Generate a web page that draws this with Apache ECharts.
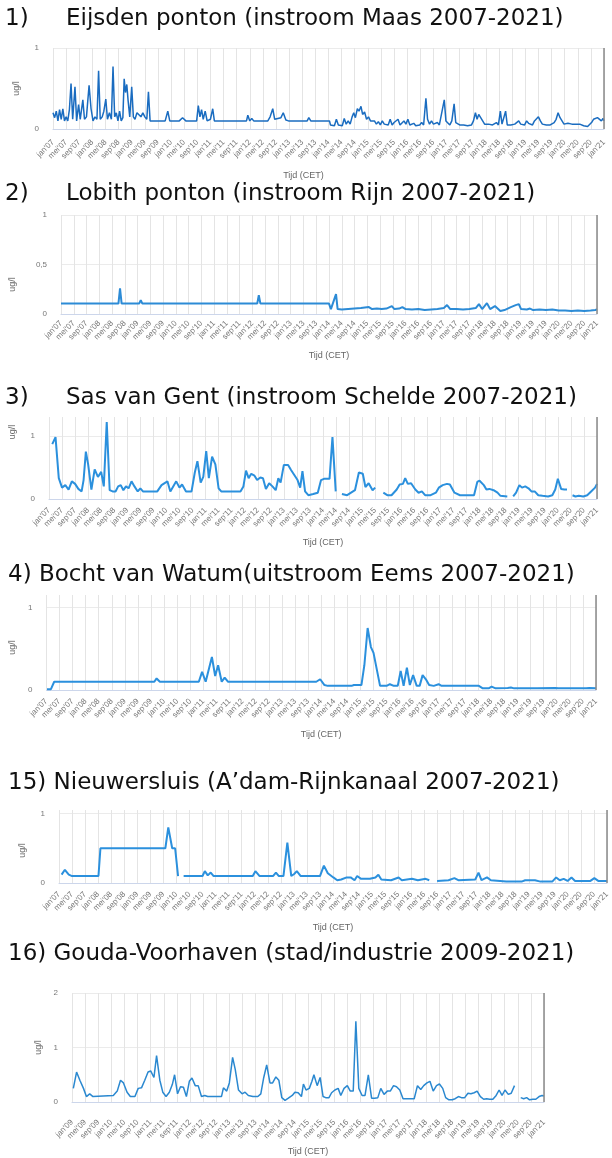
<!DOCTYPE html>
<html><head><meta charset="utf-8">
<script src="https://cdn.jsdelivr.net/npm/echarts@6/dist/echarts.min.js"></script>
<style>html,body{margin:0;padding:0;background:#fff}#c{width:612px;height:1158px}</style>
</head><body><div id="c"></div>
<script>
// ---- tick label names (month abbreviations every 4 months) ----
const monthNames = ['jan', 'mei', 'sep'];
// ---- panel titles ----
const titleNums = ['1)', '2)', '3)', '', '', ''];
const titleTexts = [
  'Eijsden ponton (instroom Maas 2007-2021)',
  'Lobith ponton (instroom Rijn 2007-2021)',
  'Sas van Gent (instroom Schelde 2007-2021)',
  '4) Bocht van Watum(uitstroom Eems 2007-2021)',
  '15) Nieuwersluis (A\u2019dam-Rijnkanaal 2007-2021)',
  '16) Gouda-Voorhaven (stad/industrie 2009-2021)'
];
const yName = 'ug/l';
const xName = 'Tijd (CET)';

// ---- series: [months since jan'07, ug/l] ----
const eijsden = [[0,0.2],[0.5,0.14],[1,0.22],[1.5,0.1],[2,0.24],[2.5,0.12],[3,0.25],[3.5,0.1],[4,0.15],[4.5,0.1],[5,0.24],[5.5,0.56],[6,0.12],[6.7,0.52],[7.2,0.1],[7.8,0.3],[8.3,0.12],[9.1,0.36],[9.6,0.12],[10.2,0.15],[11,0.54],[11.6,0.25],[12.2,0.1],[12.8,0.15],[13.4,0.12],[13.9,0.72],[14.4,0.12],[15,0.15],[15.5,0.22],[16.1,0.37],[16.6,0.12],[17.2,0.2],[17.8,0.12],[18.3,0.77],[18.8,0.15],[19.3,0.2],[19.8,0.1],[20.3,0.22],[20.8,0.1],[21.3,0.14],[21.7,0.62],[22.1,0.45],[22.5,0.55],[22.9,0.35],[23.4,0.15],[24,0.52],[24.5,0.15],[25,0.12],[25.6,0.2],[26.2,0.22],[26.8,0.15],[27.4,0.2],[28,0.15],[28.6,0.12],[29.1,0.46],[29.6,0.1],[34.2,0.1],[35,0.22],[35.6,0.1],[38.5,0.1],[39.5,0.14],[40.5,0.1],[43.8,0.1],[44.3,0.29],[44.8,0.15],[45.3,0.24],[45.8,0.12],[46.4,0.22],[47,0.1],[48,0.12],[48.7,0.25],[49.2,0.1],[59,0.1],[59.4,0.17],[60,0.1],[60.6,0.13],[61.2,0.1],[65.5,0.1],[66.2,0.15],[67,0.25],[67.6,0.12],[69.5,0.14],[70.2,0.2],[71,0.11],[71.8,0.1],[77.5,0.1],[78,0.14],[78.6,0.1],[81,0.1],[81.5,0.12],[82,0.1],[84.3,0.1],[84.6,0.05],[85.2,0.06],[85.8,0.04],[86.4,0.12],[87,0.05],[87.6,0.06],[88.2,0.04],[88.8,0.13],[89.4,0.06],[90,0.1],[90.6,0.06],[91.2,0.15],[91.7,0.2],[92.2,0.14],[92.8,0.25],[93.3,0.22],[93.9,0.28],[94.4,0.18],[95,0.21],[95.6,0.12],[96.2,0.15],[96.8,0.1],[97.4,0.08],[98,0.1],[98.6,0.06],[99.2,0.09],[99.8,0.05],[100.4,0.1],[101,0.06],[101.6,0.08],[102.2,0.05],[102.8,0.12],[103.4,0.05],[104,0.08],[104.6,0.06],[105.2,0.12],[105.8,0.05],[106.4,0.06],[107,0.1],[107.6,0.06],[108.2,0.12],[108.8,0.05],[109.4,0.05],[110,0.07],[110.6,0.04],[111.2,0.06],[111.8,0.05],[112.4,0.08],[113,0.05],[113.7,0.38],[114.2,0.12],[114.8,0.06],[115.4,0.1],[116,0.06],[116.6,0.05],[117.2,0.08],[117.8,0.05],[118.4,0.06],[119.3,0.36],[119.8,0.1],[120.4,0.08],[121,0.05],[121.6,0.1],[122.3,0.31],[122.8,0.08],[123.4,0.07],[124,0.05],[124.6,0.07],[125.2,0.05],[125.8,0.06],[126.4,0.04],[127,0.06],[127.6,0.05],[128.2,0.1],[128.8,0.2],[129.3,0.12],[129.8,0.18],[130.4,0.14],[131,0.1],[131.6,0.06],[132.2,0.05],[132.8,0.06],[133.4,0.04],[134,0.05],[134.6,0.04],[135.2,0.08],[135.8,0.05],[136.4,0.22],[136.9,0.06],[137.5,0.05],[138,0.22],[138.5,0.05],[139,0.04],[139.6,0.05],[140.2,0.04],[140.8,0.06],[141.4,0.05],[142,0.1],[142.6,0.06],[143.2,0.08],[143.8,0.05],[144.4,0.1],[145,0.07],[145.6,0.08],[146.2,0.05],[146.8,0.1],[147.4,0.12],[148,0.15],[148.6,0.1],[149.2,0.06],[149.8,0.04],[150.4,0.05],[151,0.03],[151.6,0.05],[152.2,0.04],[152.8,0.08],[153.4,0.12],[154,0.2],[154.6,0.14],[155.2,0.1],[155.8,0.06],[156.4,0.05],[157,0.07],[157.6,0.05],[158.2,0.06],[158.8,0.07],[159.4,0.06],[160,0.05],[160.6,0.06],[161.2,0.05],[161.8,0.04],[162.4,0.04],[163,0.03],[163.6,0.04],[164.2,0.08],[164.8,0.12],[165.4,0.13],[166,0.14],[166.6,0.12],[167.2,0.1],[167.7,0.13],[168,0.1]];

const lobith = [[0,0.105],[1.5,0.105],[2,0.115],[2.5,0.105],[18,0.105],[18.5,0.26],[19,0.105],[24.5,0.105],[25,0.14],[25.5,0.105],[61.5,0.105],[62,0.19],[62.5,0.105],[84,0.105],[84.6,0.05],[85.2,0.06],[86.2,0.2],[86.7,0.05],[88,0.045],[90,0.05],[92,0.055],[94,0.06],[96.5,0.07],[97.5,0.05],[99,0.055],[100.5,0.05],[102,0.055],[103.7,0.08],[104.5,0.05],[106,0.055],[107,0.07],[108,0.05],[110,0.045],[112,0.05],[114,0.04],[116,0.045],[118,0.05],[120,0.06],[121,0.09],[122,0.05],[124,0.05],[126,0.045],[128,0.05],[130,0.06],[131,0.1],[132,0.05],[133.5,0.11],[134.5,0.05],[136,0.08],[137.7,0.03],[139,0.04],[141,0.07],[142.5,0.09],[143.5,0.1],[144.2,0.05],[146,0.045],[147,0.055],[148,0.04],[150,0.045],[152,0.04],[154,0.045],[156,0.035],[158,0.035],[160,0.03],[162,0.035],[164,0.03],[166,0.035],[167.5,0.04],[168,0.05]];

const sasVanGent = [[1,0.87],[2,0.98],[3,0.33],[4,0.18],[5,0.22],[6,0.15],[7,0.28],[8,0.24],[9,0.16],[10,0.12],[10.6,0.3],[11.3,0.75],[12,0.55],[13,0.15],[14,0.47],[15,0.35],[16,0.43],[16.8,0.2],[17.7,1.22],[18.6,0.14],[19.5,0.12],[20.4,0.12],[21.2,0.2],[22,0.22],[22.8,0.14],[23.6,0.2],[24.4,0.17],[25.3,0.28],[26.2,0.2],[27.2,0.12],[28,0.17],[28.8,0.12],[33.2,0.12],[34.5,0.22],[36.3,0.28],[37.2,0.12],[39,0.28],[40,0.18],[40.8,0.23],[42,0.12],[43.7,0.12],[44.7,0.42],[45.5,0.6],[46.5,0.26],[47.3,0.35],[48.2,0.76],[49,0.33],[50,0.67],[51,0.55],[52,0.17],[52.8,0.12],[58.7,0.12],[59.6,0.2],[60.4,0.45],[61.2,0.33],[62,0.4],[63,0.37],[63.8,0.3],[64.8,0.34],[65.6,0.33],[66.5,0.16],[67.5,0.25],[68.5,0.2],[69.5,0.14],[70.3,0.33],[71,0.26],[72,0.54],[73.3,0.54],[74.2,0.46],[75.2,0.38],[76.2,0.3],[77,0.18],[77.7,0.44],[78.5,0.12],[79.5,0.06],[81,0.08],[82.4,0.1],[83.4,0.3],[84.3,0.32],[85.3,0.32],[86,0.32],[86.9,0.98],[87.9,0.12],[88.8,null],[89.8,0.08],[91.4,0.06],[92.6,0.1],[93.8,0.14],[95,0.42],[96.2,0.4],[97,0.19],[98,0.25],[99.2,0.14],[100,0.18],[101.2,null],[102.5,0.1],[103.7,0.06],[105,0.06],[106.6,0.15],[107.5,0.23],[108.5,0.24],[109.2,0.33],[110,0.24],[111,0.25],[112.3,0.15],[113.3,0.1],[114.3,0.12],[115.3,0.06],[117,0.06],[118.6,0.1],[119.5,0.18],[120.7,0.22],[122,0.24],[122.9,0.23],[124.3,0.1],[126,0.06],[130.3,0.06],[131.3,0.27],[132,0.29],[133.3,0.22],[134.1,0.15],[135,0.16],[136.3,0.14],[137.5,0.1],[138.4,0.05],[140.5,0.04],[141.4,null],[142.3,0.04],[143.2,0.1],[144.2,0.22],[145,0.18],[146,0.2],[147,0.17],[147.9,0.12],[148.9,0.12],[150,0.06],[151.3,0.05],[153,0.04],[154.3,0.06],[155.2,0.15],[156,0.32],[157,0.16],[158,0.15],[158.8,0.15],[159.6,null],[160.5,0.06],[161.4,0.04],[162.4,0.05],[163.8,0.04],[165,0.06],[166.2,0.12],[167.4,0.18],[168,0.24]];

const watum = [[0.2,0.01],[1.4,0.01],[2.4,0.1],[33,0.1],[33.7,0.14],[34.7,0.1],[38.3,0.1],[38.9,0.11],[39.5,0.1],[46.6,0.1],[47.6,0.22],[48.7,0.1],[50.6,0.4],[51.6,0.17],[52.5,0.3],[53.6,0.1],[54.5,0.15],[55.5,0.1],[82.5,0.1],[83.7,0.13],[85,0.06],[86,0.05],[93.3,0.05],[94,0.06],[96.3,0.06],[97.2,0.3],[98.2,0.75],[99.2,0.52],[100,0.45],[102,0.05],[104,0.05],[105,0.07],[106.2,0.05],[107.4,0.05],[108.3,0.23],[109.2,0.05],[110.2,0.27],[111.1,0.06],[112.1,0.18],[113.2,0.05],[114.1,0.05],[115,0.18],[116,0.13],[117,0.06],[118.4,0.05],[119.9,0.07],[120.8,0.05],[132.2,0.05],[133.4,0.02],[135.2,0.02],[136.1,0.04],[137.3,0.02],[141,0.025],[142,0.03],[143,0.02],[150,0.02],[155.5,0.025],[156.5,0.02],[165,0.02],[166,0.025],[168,0.02]];

const nieuwersluis = [[0.8,0.12],[1.8,0.19],[3,0.12],[4,0.1],[12.1,0.1],[12.7,0.5],[32.6,0.5],[33.5,0.8],[34.7,0.5],[35.6,0.5],[36.5,0.1],[37.3,null],[38.2,0.1],[44,0.1],[44.7,0.17],[45.6,0.11],[46.5,0.15],[47.4,0.1],[59.4,0.1],[60.2,0.17],[61.5,0.1],[65.6,0.1],[66.5,0.15],[67.4,0.1],[68.8,0.1],[70,0.58],[71.2,0.1],[72.1,0.13],[72.9,0.17],[74.1,0.1],[80,0.1],[81.2,0.25],[82.4,0.14],[84.1,0.08],[85.3,0.04],[86.5,0.05],[88.2,0.08],[89.4,0.08],[90.6,0.04],[91.4,0.1],[92.6,0.06],[95.3,0.06],[97,0.08],[97.9,0.12],[98.8,0.05],[101.8,0.04],[104.1,0.08],[105.1,0.04],[108.2,0.06],[110,0.04],[112.4,0.06],[113.5,0.04],[114.7,null],[115.9,0.03],[119.4,0.04],[121.2,0.07],[122.4,0.04],[127.6,0.05],[128.6,0.15],[129.5,0.04],[131.2,0.08],[132.4,0.04],[137.1,0.02],[141.8,0.02],[142.9,0.04],[145.9,0.04],[146.5,0.06],[147.6,0.02],[151.2,0.02],[152.4,0.08],[153.5,0.04],[154.7,0.06],[155.9,0.03],[157.1,0.08],[158.2,0.03],[162.9,0.03],[164.1,0.07],[165.3,0.03],[168,0.03]];

const gouda = [[24.4,0.25],[25.4,0.55],[26.4,0.4],[27.5,0.25],[28.4,0.1],[29.4,0.15],[30.4,0.1],[36.6,0.12],[37.8,0.2],[38.8,0.4],[39.7,0.35],[40.8,0.18],[41.8,0.1],[43.2,0.1],[44.2,0.25],[45.2,0.26],[46.2,0.4],[47.2,0.55],[48,0.57],[49,0.45],[49.8,0.85],[50.8,0.4],[51.7,0.18],[52.7,0.1],[53.7,0.18],[54.6,0.32],[55.3,0.5],[56.2,0.15],[57.1,0.28],[58,0.27],[58.9,0.1],[59.8,0.38],[60.6,0.44],[61.6,0.3],[62.5,0.3],[63.5,0.1],[64.5,0.12],[65.4,0.1],[69.6,0.1],[70.2,0.26],[71.2,0.2],[72,0.35],[73,0.82],[73.8,0.6],[74.8,0.22],[75.9,0.15],[76.8,0.18],[77.8,0.12],[79.2,0.1],[80.7,0.1],[81.6,0.15],[82.5,0.45],[83.4,0.68],[84.4,0.35],[85.2,0.35],[86.2,0.46],[87.1,0.4],[88,0.08],[89,0.03],[90,0.07],[91.2,0.12],[92,0.18],[93,0.17],[94,0.1],[94.6,0.33],[95.4,0.22],[96.4,0.25],[97.2,0.38],[97.8,0.5],[98.8,0.3],[99.7,0.45],[100.6,0.1],[101.4,0.08],[102.4,0.08],[103.2,0.17],[104.2,0.22],[105.2,0.25],[106,0.12],[107,0.25],[108,0.3],[108.9,0.2],[109.8,0.2],[110.6,1.48],[111.5,0.25],[112.5,0.12],[113.4,0.12],[114.4,0.5],[115.4,0.07],[116.3,0.07],[117.3,0.08],[118.2,0.25],[119.2,0.14],[120.2,0.2],[121.1,0.2],[122.1,0.3],[123,0.28],[124,0.22],[125,0.06],[126.6,0.06],[128.4,0.06],[129.4,0.3],[130.4,0.23],[131.3,0.3],[132.3,0.35],[133.2,0.38],[134.2,0.2],[135.2,0.3],[136.1,0.33],[137.1,0.25],[138,0.08],[139,0.04],[140,0.04],[140.9,0.06],[141.9,0.1],[142.8,0.08],[143.8,0.08],[144.8,0.16],[145.7,0.15],[146.7,0.17],[147.6,0.2],[148.6,0.1],[149.6,0.05],[150.5,0.06],[151.4,0.05],[152.4,0.05],[153.4,0.12],[154.3,0.22],[155.2,0.12],[156.1,0.22],[157.1,0.14],[158,0.16],[159,0.3],[160,null],[160.9,0.08],[161.8,0.06],[162.7,0.08],[163.6,0.04],[164.6,0.05],[165.5,0.05],[166.5,0.1],[167.4,0.12],[168,0.11]];

const seriesData = [eijsden, lobith, sasVanGent, watum, nieuwersluis, gouda];
const xStart = [0, 0, 0, 0, 0, 24];
const xEnd = 168;

// ---- layout (pixels) ----
const layout = [
  {top: 48,  h: 81,  left: 53, w: 551, max: 1,    iv: 1,   off: 8,  tTop: 8,   yGap: 32, yPad: [0,0,0,0],   xGap: 34, xPad: [0,50,0,0], color: '#1a6cc0', lw: 1.5},
  {top: 215, h: 99,  left: 47, w: 550, max: 1,    iv: 0.5, off: 4,  tTop: 183, yGap: 44, yPad: [0,40,0,0],  xGap: 33, xPad: [0,0,0,0],  color: '#2c8bd6', lw: 2},
  {top: 417, h: 82,  left: 48, w: 549, max: 1.3,  iv: 1,   off: 6,  tTop: 387, yGap: 32, yPad: [0,0,0,52],  xGap: 33, xPad: [0,0,0,0],  color: '#2b90dd', lw: 2},
  {top: 595, h: 95,  left: 45, w: 551, max: 1.15, iv: 1,   off: 6,  tTop: 564, yGap: 28, yPad: [0,10,0,0],  xGap: 34, xPad: [0,0,0,0],  color: '#2b90dd', lw: 2},
  {top: 810, h: 73,  left: 59, w: 553, max: 1.05, iv: 1,   off: 6,  tTop: 772, yGap: 32, yPad: [0,8,0,0],   xGap: 34, xPad: [0,0,0,0],  color: '#2b90dd', lw: 2},
  {top: 993, h: 109, left: 72, w: 472, max: 2,    iv: 1,   off: 15, tTop: 943, yGap: 28, yPad: [0,0,0,0],   xGap: 30, xPad: [0,0,0,0],  color: '#2a88d0', lw: 1.5}
];

function monthLabel(m) {
  const yr = 7 + Math.floor(m / 12);
  return monthNames[Math.round((m % 12) / 4)] + "'" + String(yr).padStart(2, '0');
}

const titleFont = {fontFamily: 'DejaVu Sans', fontSize: 23, fontWeight: 'normal', color: '#111'};
const titles = [];
const grids = [], xAxes = [], yAxes = [], series = [];
layout.forEach((L, i) => {
  if (titleNums[i]) {
    titles.push({text: titleNums[i], left: 5, top: L.tTop, padding: 0, textStyle: titleFont});
    titles.push({text: titleTexts[i], left: 66, top: L.tTop, padding: 0, textStyle: titleFont});
  } else {
    titles.push({text: titleTexts[i], left: 8, top: L.tTop, padding: 0, textStyle: titleFont});
  }
  grids.push({left: L.left, top: L.top, width: L.w, height: L.h, containLabel: false});
  xAxes.push({
    type: 'value', gridIndex: i, min: xStart[i], max: xEnd, interval: 4, offset: L.off,
    name: xName, nameLocation: 'middle', nameGap: L.xGap,
    nameTextStyle: {color: '#666', fontSize: 9, fontFamily: 'Liberation Sans', padding: L.xPad},
    axisLine: {show: true, lineStyle: {color: '#ccd6eb', width: 1}},
    axisTick: {show: false},
    axisLabel: {rotate: 45, fontSize: 8, color: '#777', fontFamily: 'Liberation Sans', margin: 4,
      formatter: v => monthLabel(v)},
    splitLine: {show: true, lineStyle: {color: '#e4e4e4', width: 1}}
  });
  yAxes.push({
    type: 'value', gridIndex: i, min: 0, max: L.max, interval: L.iv,
    name: yName, nameLocation: 'middle', nameGap: L.yGap, nameRotate: 90,
    nameTextStyle: {color: '#666', fontSize: 9, fontFamily: 'Liberation Sans', padding: L.yPad},
    axisLine: {show: false}, axisTick: {show: false},
    axisLabel: {fontSize: 8, color: '#777', fontFamily: 'Liberation Sans', margin: 14,
      formatter: v => (Math.abs(v / L.iv - Math.round(v / L.iv)) < 1e-6 ? String(v).replace('.', ',') : '')},
    splitLine: {show: true, showMaxLine: (L.max % L.iv === 0), lineStyle: {color: '#ebebeb', width: 1}}
  });
  series.push({
    type: 'line', xAxisIndex: i, yAxisIndex: i, data: seriesData[i],
    showSymbol: false, connectNulls: false, silent: true,
    lineStyle: {color: L.color, width: L.lw}, itemStyle: {color: L.color},
    markLine: {silent: true, symbol: 'none', label: {show: false},
      lineStyle: {color: '#8a8a8a', width: 1.5, type: 'solid'},
      data: [{xAxis: xEnd}]}
  });
});

const chart = echarts.init(document.getElementById('c'), null, {renderer: 'canvas'});
chart.setOption({
  animation: false, backgroundColor: '#fff',
  title: titles, grid: grids, xAxis: xAxes, yAxis: yAxes, series: series
});
</script></body></html>
